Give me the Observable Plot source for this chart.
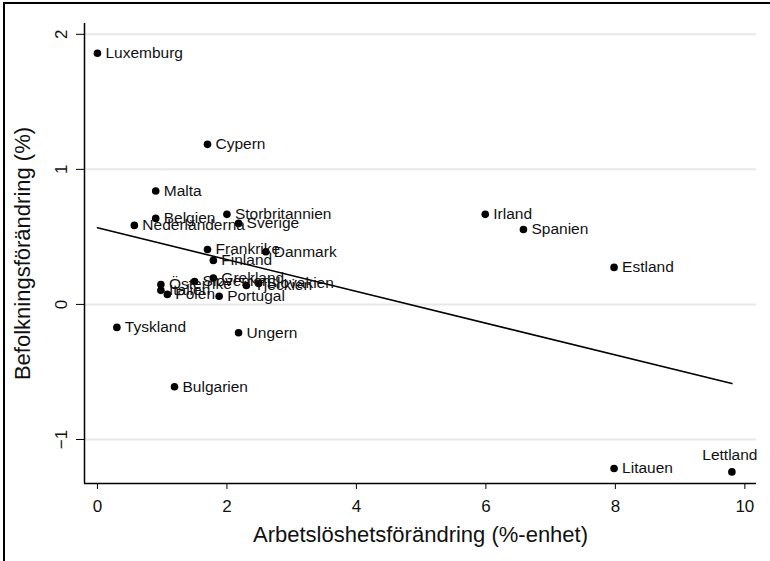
<!DOCTYPE html>
<html>
<head>
<meta charset="utf-8">
<script src="https://cdn.jsdelivr.net/npm/d3@7"></script>
<script src="https://cdn.jsdelivr.net/npm/@observablehq/plot@0.6"></script>
<style>
  html, body { margin: 0; padding: 0; background: #fff; overflow: hidden; }
  #wrap { position: relative; width: 770px; height: 561px; }
  #border { position: absolute; left: 3px; top: 2px; width: 800px; height: 600px;
            border-top: 2px solid #000; border-left: 2px solid #000; pointer-events: none; }
</style>
</head>
<body>
<div id="wrap"><div id="border"></div></div>
<script>
const countries = ["Luxemburg","Cypern","Malta","Belgien","Nederländerna","Storbritannien","Sverige",
  "Irland","Spanien","Estland","Frankrike","Finland","Danmark","Österrike","Italien","Polen",
  "Slovenien","Grekland","Portugal","Tjeckien","Slovakien","Tyskland","Ungern","Bulgarien",
  "Litauen","Lettland"];
const unemploymentChange = [0.0, 1.70, 0.90, 0.90, 0.57, 2.00, 2.18,
  5.99, 6.58, 7.98, 1.70, 1.79, 2.60, 0.98, 0.98, 1.08,
  1.50, 1.79, 1.88, 2.30, 2.49, 0.30, 2.18, 1.19,
  7.98, 9.80];
const populationChange = [1.86, 1.185, 0.84, 0.637, 0.585, 0.667, 0.60,
  0.667, 0.555, 0.274, 0.407, 0.326, 0.39, 0.148, 0.104, 0.074,
  0.17, 0.195, 0.06, 0.14, 0.155, -0.17, -0.21, -0.61,
  -1.215, -1.24];
const xTicks = [0, 2, 4, 6, 8, 10];
const yTicks = [-1, 0, 1, 2];
const xDomain = [-0.2, 10.18];
const yDomain = [-1.326, 2.08];

const data = countries.map((name, i) => ({name, x: unemploymentChange[i], y: populationChange[i]}));

const font = "'Liberation Sans', Arial, sans-serif";

const chart = Plot.plot({
  width: 770,
  height: 561,
  marginLeft: 84,
  marginRight: 14,
  marginTop: 23,
  marginBottom: 78,
  style: {fontFamily: font, background: "transparent", color: "#111", overflow: "visible"},
  x: {domain: xDomain},
  y: {domain: yDomain},
  marks: [
    Plot.gridY(yTicks, {stroke: "#e8e8e8", strokeOpacity: 1, strokeWidth: 2}),
    Plot.ruleX([xDomain[0]], {stroke: "#000", strokeWidth: 1.5}),
    Plot.ruleY([yDomain[0]], {stroke: "#000", strokeWidth: 1.5}),
    Plot.axisX({ticks: xTicks, tickSize: 6, tickPadding: 10, fontSize: 17, label: null, stroke: "#000", tickFormat: d3.format("d")}),
    Plot.axisY({ticks: yTicks, tickSize: 8, tickPadding: 10, fontSize: 17, label: null, tickRotate: -90, stroke: "#000", tickFormat: d3.format("d")}),
    Plot.text(["Arbetslöshetsförändring (%-enhet)"], {frameAnchor: "bottom", dy: 58, fontSize: 22, fill: "#111"}),
    Plot.text(["Befolkningsförändring (%)"], {frameAnchor: "left", textAnchor: "middle", dx: -62, rotate: -90, fontSize: 22, fill: "#111"}),
    Plot.linearRegressionY(data, {x: "x", y: "y", ci: 0, stroke: "#000", strokeWidth: 1.6}),
    Plot.dot(data, {x: "x", y: "y", r: 3.8, fill: "#000", stroke: "none"}),
    Plot.text(data, {filter: d => d.name !== "Lettland", x: "x", y: "y", text: "name", textAnchor: "start", dx: 8, fontSize: 15.5, fill: "#111"}),
    Plot.text(data, {filter: d => d.name === "Lettland", x: "x", y: "y", text: "name", textAnchor: "middle", dy: -17, dx: -2, fontSize: 15.5, fill: "#111"})
  ]
});
document.getElementById("wrap").prepend(chart);
</script>
</body>
</html>
